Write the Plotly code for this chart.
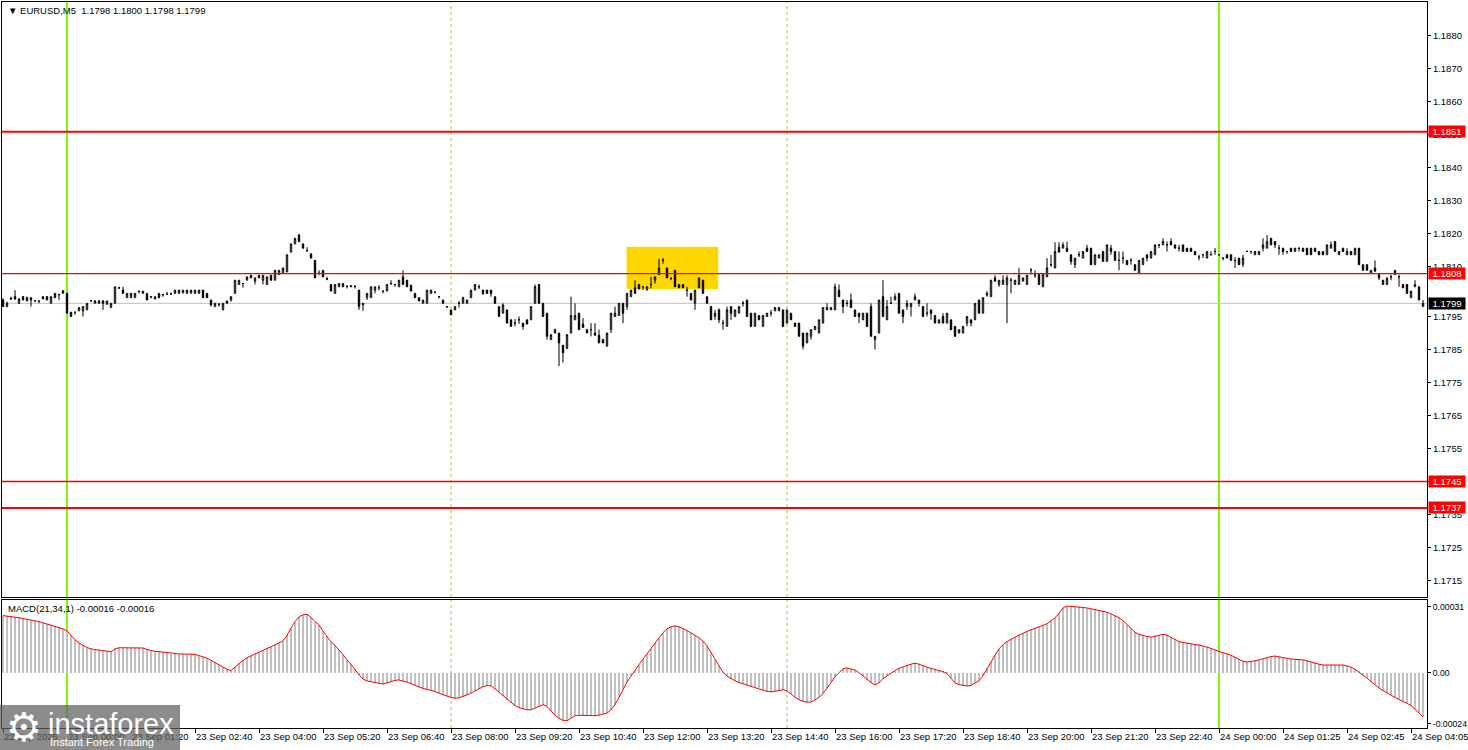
import plotly.graph_objects as go

# ---------------- data (prices in pips relative to BASE) ----------------
BASE = 1.1800
symbol_title = "EURUSD,M5  1.1798 1.1800 1.1798 1.1799"
macd_title = "MACD(21,34,1) -0.00016 -0.00016"

open_pips = [
    0, -2, 0.3, 1, -1, 1, -0.3, 0.7, -0.3, -0.3,
    1, 1, -1, 2, 1.7, 2, 2, -3.7, -3.7, -3.3,
    -3.3, -3, -0.3, -1, -1, -0.3, -1.3, -2.3, -1, 3.7,
    3, 0.7, 0.7, 0.7, 2.7, 2, 2, 1, 0.3, 2,
    1.7, 1.7, 2, 2, 2, 2.2, 2, 2.1, 2, 2,
    3, 2, 0, -2, -1.3, -3, -0.3, 0, 2, 4.7,
    5, 6, 7.5, 5.7, 7.5, 6, 4.7, 7.5, 6, 7.7,
    8, 8.5, 14.5, 17, 19.7, 17, 15, 14, 12, 8,
    9, 6.5, 4.7, 2, 4, 5, 4.2, 4, 4.2, 3,
    -1.5, 0.7, 0.7, 3, 3.7, 2.7, 2.7, 5, 4.7, 4,
    7, 6, 4.5, 2, 0.7, -1, -1, 2, 2.3, 1,
    0, -2, -3, -3, -1, -1, -1, 0.7, 3, 4,
    3, 3, 3, 1, -2, -4, -3, -6, -7, -6,
    -7, -6, -6, -1, 4.7, -1, -4, -12, -10, -10,
    -13.7, -14.7, -10, -6, -4, -7.3, -9, -9, -10, -10.7,
    -12, -14, -9, -5, -4.7, -1, -2, 1, 3.7, 4.7,
    4, 3, 4.7, 6, 7.7, 12, 9.7, 6.5, 9, 4.7,
    4.7, 3, 2, -1, 3.7, 6, 1, -2, -5, -3,
    -7, -8, -2, -5, -4, -1, 0, -4, -8, -4.7,
    -8, -5, -4, -3.3, -3.3, -3, -7, -4, -7, -7,
    -10, -13, -11, -9, -10, -7, -3, -3, -3, 3,
    0, -1, 0, -3, -4, -6, -4, -2, -12, -10,
    1, -6, -1, 0, 2, -3, -2, -2, 0, 0,
    -2, -4, -3, -4.7, -7, -5, -7, -6, -8, -10,
    -10, -7, -6, -6, 0, -4, 1.5, 1, 6.7, 4.7,
    4.7, 4.7, 6, 4.7, 4.7, 5.7, 4.7, 9, 7.5, 7.7,
    4, 7, 10.7, 9.7, 16, 15.7, 15.7, 13.7, 10.7, 13.7,
    12.7, 15.7, 15.7, 10.7, 12.7, 14.7, 11.7, 15.7, 14.7, 12,
    12.7, 12, 12, 10.7, 8, 10.7, 13.7, 12.7, 13.7, 16.7,
    16.7, 16.7, 17.7, 16.7, 15.7, 16.7, 15.7, 15.7, 14.7, 13,
    13.7, 12.7, 13.7, 14.7, 13.7, 12.7, 13.7, 13.7, 12, 12.7,
    10.7, 14.7, 14.7, 13.7, 13.7, 15.7, 15.7, 18.7, 17.7, 15.7,
    15.7, 14.7, 15.7, 14.7, 15.7, 15.7, 15.7, 15.7, 15.7, 14.7,
    14.7, 13.7, 15.7, 17.7, 13.7, 15.7, 13.7, 14.7, 13.7, 15.7,
    10.7, 10.7, 8, 9.7, 7.7, 6, 4.7, 7, 9, 7,
    4.7, 4.7, 0.7, 4, 4, -2,
]
high_pips = [
    0.5, -0.5, 1, 3, 0.5, 1.2, 1, 0.7, 0, -0.3,
    1, 1.2, 1, 2, 1.8, 3, 2.2, -3.7, -3.6, -2.3,
    -2, -1, 0, 0, 0, 0, -0.3, -1, 4, 4,
    4, 2, 2, 2, 2.7, 2.7, 2, 1, 1, 2,
    1.7, 2.5, 2, 3, 3, 3, 3, 3, 3, 3,
    3, 2, 0, -1, -1, -1, -0.3, 1, 6, 6,
    5, 7, 7.5, 6.7, 7.5, 7.5, 7, 7.5, 9, 9,
    9.7, 13.7, 17, 18.7, 20, 17, 16, 14, 12, 9,
    9, 7, 4.7, 4.7, 5, 5, 4.2, 4.3, 4.2, 3,
    -1, 2, 4, 4, 4.5, 2.7, 4.7, 6, 4.7, 6,
    9, 6, 4.5, 2, 0.7, 0, 3, 3, 2.7, 1,
    0, -2, -3, -2, -0.3, 1, 0, 3, 4.7, 4.7,
    3, 3, 3, 1, -2, -1, -3, -6, -5.7, -5,
    -7, -6, -2, 4.7, 4.7, -1, -4, -10.5, -8.7, -10,
    -13.7, -10.5, 1, -1, -4, -5.5, -9, -7, -7, -9,
    -12, -10, -4, -2, -1, -1, 2, 3, 6, 4.7,
    4, 4, 7, 7, 12.5, 12.7, 9.7, 7, 9, 4.7,
    4.7, 4, 2, 3, 6.7, 6, 1, -2, -3, -2.5,
    -6, -2, -2, -3, -2, -0.3, 0, -4, -4, -4.7,
    -4.7, -4, -3, -2.3, -2.3, -3, -3, -4, -7, -7,
    -10, -10, -9, -8, -6, -2.3, -1, -2.3, 5, 4.7,
    0, 0, 2, -3, -4, -4, -4, -1, -11, 0,
    6, 0, 1, 2, 2, -3, 0, -1, 2, 0,
    -2, -1, -3, -4.7, -6, -4, -4, -6, -8, -9,
    -8, -5, -6, -1, 0, 0.7, 2.7, 6, 7.5, 6,
    7.5, 7.5, 6.7, 6, 9.7, 6.7, 7.5, 9.7, 9, 7.7,
    7.7, 12.7, 13.7, 17.5, 17.5, 17.5, 17.7, 13.7, 12.7, 14.7,
    14.7, 16.7, 15.7, 13.7, 13.7, 14.7, 16.7, 16.7, 14.7, 14.7,
    14.7, 12, 12.7, 10.7, 12, 12.7, 13.7, 14.7, 16.7, 16.7,
    18.7, 17.7, 18.7, 16.7, 16.7, 16.7, 15.7, 15.7, 14.7, 13.7,
    13.7, 14.7, 14.7, 15.7, 13.7, 12.7, 13.7, 13.7, 13, 12.7,
    13.7, 15, 14.7, 14.7, 14.7, 18.7, 19.7, 18.7, 17.7, 16.7,
    15.7, 14.7, 15.7, 15.7, 15.7, 15.7, 15.7, 15.7, 15.7, 14.7,
    14.7, 16.7, 17.7, 17.7, 14.7, 15.7, 15.7, 14.7, 15.7, 15.7,
    10.7, 10.7, 9, 12, 7.7, 6, 6.7, 7.7, 9, 7.7,
    4.7, 4.7, 2.7, 6, 4, 0,
]
low_pips = [
    -2, -2.2, 0, 0, -1.2, 0, -0.3, -2, -0.5, -1,
    0.3, 0, -1, 0.7, 0, 2, -4, -5, -4.5, -3.3,
    -5, -3, -0.5, -1, -1, -3, -1.3, -2.3, -1, 3.5,
    2, 0.7, 0.7, 0.7, 2, 2, 0, 0.5, 0.3, 0.7,
    1, 1.7, 1.5, 2, 2, 2, 2, 2, 2, 2,
    0.7, 0.7, -2, -2, -2, -3, -1, -0.5, 2, 4.7,
    3.7, 6, 6.7, 4.7, 6.7, 4.7, 4.7, 6, 6, 7.7,
    8, 8.5, 14.5, 17, 17.7, 15.7, 14.5, 12.7, 6.7, 7.5,
    7, 6, 2.7, 2, 4, 4, 3.5, 4, 3.5, -3,
    -3.3, 0, 0.7, 2, 3, 2, 2.7, 4.5, 4, 4,
    4.7, 4, 2.7, 0.7, -0.3, -1, -1, 2, 2, 0.5,
    -1, -2.5, -4.5, -3, -2.3, -1, -1, 0.7, 3, 3.3,
    1.5, 2, 1, -1, -5, -4, -7, -8, -8, -7.3,
    -9, -7.3, -6, -1, -1, -5, -12, -12, -10, -20,
    -19, -14.7, -10, -6, -9, -8.3, -10, -11, -10.7, -13,
    -13, -14, -10, -5, -4.7, -7, -3, 1, 2, 3.3,
    3, 3, 3.5, 5, 7.7, 11, 6.7, 6, 4, 3.7,
    3.7, 1, 0, -3, 3.7, 2, -1, -6, -6, -7,
    -9, -8, -6, -5, -4, -2, -5, -8, -8, -6,
    -8, -5, -5, -3.3, -3.3, -8, -7, -6, -8, -11,
    -15, -13, -12, -9, -10, -7, -3, -3, -3, 1,
    -4, -2, -2.3, -5, -7, -6, -8, -11, -15, -10,
    -5, -6, -1, 0, -4, -7, -3, -5, 0, -2,
    -5, -5, -6, -7, -7, -7, -7, -9, -11, -10,
    -10, -8, -8, -6, -4, -4, 1, 1, 5.7, 4,
    4.7, -7, 2, 4.7, 4.7, 5.7, 4.7, 7.7, 6.7, 4.7,
    4, 7, 10, 9.7, 14.5, 15.7, 14.7, 10.7, 9.7, 13,
    12.7, 14.7, 10.7, 10.7, 12.7, 11.7, 11.7, 13.7, 12, 9,
    11, 10.7, 10.7, 9, 8, 10.7, 11.7, 12.7, 13.7, 15.7,
    16.7, 14.7, 16.7, 15.7, 14.7, 14.7, 14.7, 14.7, 13.7, 12,
    12.7, 12.7, 13.7, 13.7, 13.5, 12, 12.7, 12, 9.7, 10.7,
    10, 14.7, 14, 13.7, 13.7, 14.7, 15.7, 16.7, 15.7, 13.7,
    13.7, 14, 14.7, 14.7, 14.7, 14.7, 13.7, 13.7, 14.7, 13.7,
    13.7, 13.7, 15.7, 14.7, 13.7, 14.7, 13.7, 13.7, 13.7, 10.7,
    9, 9, 8, 8.7, 6, 4.7, 4.7, 6, 7.7, 4,
    3.7, 2, 0.7, 4, 0, -2,
]
close_pips = [
    -2, -1, 0.5, 0.3, 0.3, 0, 0.7, 0, -0.2, -0.3,
    0.3, 0, 1, 0.7, 1.6, 2.8, -4, -5, -3.7, -2.3,
    -2, -1, -0.2, -0.3, -0.3, -1, -0.3, -1, 4, 3.6,
    2, 2, 2, 2, 2.6, 2.7, 0, 0.9, 1, 0.7,
    1.6, 1.8, 1.9, 3, 3, 3, 3, 3, 3, 3,
    0.7, 0.7, -1.5, -1, -1.3, -1, -1, 1, 6, 6,
    5, 7, 6.7, 6.7, 6.7, 7.5, 7, 6, 9, 9,
    9.7, 13.7, 17, 18.7, 17.7, 15.7, 15, 12.7, 6.7, 8.1,
    7, 6.3, 2.7, 4.7, 5, 4, 4.2, 4.3, 4.2, -2,
    -1, 2, 4, 4, 3.7, 2.7, 4.7, 5, 4.7, 6,
    4.7, 4, 2.7, 0.7, -0.3, 0, 3, 3, 2.3, 1,
    -1, -2, -4.5, -2, -1, 0.7, 0, 3, 4.7, 4,
    2, 2, 2, -1, -5, -1.5, -7, -8, -7, -6,
    -8, -7.3, -2, 4, -1, -5, -11, -10.5, -9, -13,
    -16, -10.5, -4.7, -4.7, -9, -8.3, -10, -9, -10.7, -13,
    -13, -10, -4, -4, -1, -4, 2, 3, 2, 3.3,
    4, 4, 4.7, 7, 9.7, 12, 6.7, 6.5, 4, 3.7,
    3.7, 3, 0, 3, 6.7, 2, -1, -6, -4, -6,
    -7, -3, -4, -3, -2, -1, -5, -8, -4, -6,
    -4.7, -4, -4, -2.3, -2.3, -8, -3, -6, -8, -11,
    -14, -10, -9, -8, -6, -2.3, -2.3, -2.3, 4, 1,
    -2, -1, -2.3, -5, -5, -4, -8, -11, -11, 0,
    -5, -2, -1, 1, -4, -5, -1, -1, 1, -1,
    -5, -4, -4, -7, -6, -7, -4, -9, -11, -9,
    -8, -5, -7, -1, -4, 0.7, 2, 6, 5.7, 6,
    6, 6.7, 6, 6, 7.5, 6.7, 7.5, 9, 7.5, 4.7,
    7.7, 9.7, 10.7, 14.7, 14.5, 16.7, 14.7, 11.7, 12.7, 13.7,
    14.7, 14.7, 10.7, 13.7, 13.7, 11.7, 16.7, 14.7, 12, 12,
    12.7, 10.7, 12, 9, 12, 12.7, 12.7, 14.7, 16.7, 16.7,
    17.7, 16.7, 16.7, 15.7, 15.7, 14.7, 14.7, 14.7, 13.7, 13,
    13.7, 14.7, 13.7, 14.7, 13.7, 12.7, 12.7, 12, 12, 10.7,
    12.7, 14.7, 14.7, 14.7, 14.7, 16.7, 17.7, 16.7, 16.7, 15.7,
    14.7, 14.7, 14.7, 15.7, 15.7, 14.7, 13.7, 13.7, 14.7, 13.7,
    13.7, 16.7, 16.7, 14.7, 14.7, 14.7, 14.7, 13.7, 15.7, 10.7,
    9, 9, 9, 8.7, 6.7, 4.7, 6.7, 7, 7.7, 7,
    3.7, 2, 2.7, 4.7, 0, -1,
]

# MACD(21,34,1) histogram values, in units of 1e-5
macd_e5 = [
    26.8, 26.6, 26.4, 26.2, 25.8, 25.4, 25.1, 24.8, 24.4, 24.0,
    23.4, 22.8, 22.3, 21.8, 21.3, 20.6, 19.6, 17.5, 15.5, 14.0,
    12.8, 11.8, 11.2, 10.8, 10.6, 10.4, 10.0, 9.8, 11.2, 11.7,
    11.7, 11.7, 11.7, 11.8, 11.8, 11.6, 10.9, 10.4, 10.0, 9.9,
    9.7, 9.4, 9.0, 8.9, 8.8, 8.8, 8.8, 8.8, 8.6, 8.0,
    7.5, 6.9, 5.8, 4.8, 3.8, 2.8, 1.6, 1.0, 2.6, 4.6,
    5.8, 7.0, 8.0, 8.8, 9.6, 10.6, 11.4, 12.2, 13.0, 14.0,
    15.0, 17.5, 21.0, 24.0, 26.2, 27.2, 27.4, 26.0, 24.0, 22.5,
    19.5, 17.0, 14.5, 12.8, 10.8, 8.5, 6.0, 4.0, 1.6, -1.0,
    -3.0, -3.9, -4.2, -4.6, -4.9, -5.3, -4.8, -4.2, -3.6, -3.4,
    -3.8, -4.4, -5.2, -6.0, -6.8, -7.4, -7.8, -8.2, -8.8, -9.6,
    -10.4, -11.0, -11.6, -12.0, -11.8, -11.2, -10.4, -9.6, -8.6, -7.6,
    -6.6, -6.0, -6.2, -7.6, -9.2, -10.8, -12.6, -14.2, -15.4, -16.4,
    -17.0, -17.4, -17.4, -16.6, -15.6, -15.0, -15.8, -17.8, -20.0, -21.4,
    -22.4, -22.6, -21.4, -20.2, -20.0, -20.0, -20.2, -20.3, -20.2, -19.9,
    -19.6, -19.0, -17.4, -15.0, -11.6, -7.8, -4.4, -1.6, 1.3, 3.8,
    6.4, 8.8, 11.2, 13.8, 16.4, 18.8, 20.6, 21.6, 22.0, 21.6,
    20.8, 19.8, 18.8, 17.6, 16.4, 14.8, 12.6, 9.4, 6.0, 3.0,
    0.2, -1.6, -2.8, -3.8, -4.6, -5.2, -5.8, -6.3, -6.7, -7.4,
    -8.2, -8.8, -9.0, -8.8, -8.4, -8.0, -8.6, -10.0, -11.6, -12.6,
    -13.4, -13.8, -13.8, -12.8, -11.6, -9.8, -7.2, -4.4, -2.0, 0.0,
    1.8, 2.2, 1.8, 1.3, 0.0, -1.6, -3.2, -4.6, -5.8, -4.8,
    -2.8, -1.4, 0.0, 1.0, 2.0, 2.8, 3.4, 4.0, 4.5, 4.0,
    3.2, 2.6, 2.0, 1.6, 1.0, 0.5, -0.4, -2.6, -4.8, -5.6,
    -6.0, -6.2, -6.0, -5.0, -3.8, -1.4, 2.0, 5.0, 8.2, 11.2,
    13.2, 14.6, 15.8, 16.7, 17.6, 18.6, 19.4, 20.2, 20.8, 21.4,
    22.2, 23.0, 24.2, 25.7, 28.0, 30.4, 31.3, 31.2, 31.0, 30.8,
    30.6, 30.4, 30.0, 29.8, 29.4, 29.0, 28.4, 27.6, 26.8, 25.8,
    24.4, 22.6, 20.8, 19.0, 18.0, 17.4, 17.0, 16.7, 17.2, 17.8,
    18.0, 17.6, 16.6, 15.6, 14.6, 14.2, 13.8, 13.5, 13.2, 13.0,
    12.6, 12.0, 11.4, 10.6, 10.0, 9.4, 8.8, 8.2, 7.2, 6.2,
    5.4, 5.0, 5.2, 5.6, 6.0, 6.6, 7.2, 7.6, 7.8, 7.4,
    7.0, 6.6, 6.4, 6.3, 6.2, 6.0, 5.6, 5.0, 4.4, 4.0,
    3.6, 3.6, 3.8, 3.8, 3.6, 3.6, 3.2, 2.6, 1.6, 0.4,
    -1.2, -2.6, -4.2, -5.8, -7.2, -8.4, -9.6, -10.6, -11.6, -12.6,
    -13.4, -14.4, -15.4, -17.0, -19.0, -20.8,
]

# time-axis labels (one every 16 bars)
time_labels = [
    "22 Sep 2025", "23 Sep 00:00", "23 Sep 01:20", "23 Sep 02:40", "23 Sep 04:00",
    "23 Sep 05:20", "23 Sep 06:40", "23 Sep 08:00", "23 Sep 09:20", "23 Sep 10:40",
    "23 Sep 12:00", "23 Sep 13:20", "23 Sep 14:40", "23 Sep 16:00", "23 Sep 17:20",
    "23 Sep 18:40", "23 Sep 20:00", "23 Sep 21:20", "23 Sep 22:40", "24 Sep 00:00",
    "24 Sep 01:25", "24 Sep 02:45", "24 Sep 04:05",
]
price_ticks = [1.1880, 1.1870, 1.1860, 1.1850, 1.1840, 1.1830, 1.1820, 1.1810,
               1.1795, 1.1785, 1.1775, 1.1765, 1.1755, 1.1745, 1.1735, 1.1725, 1.1715]
macd_ticks = [0.00031, 0.0, -0.00024]
macd_tick_text = ["0.00031", "0.00", "-0.00024"]

# horizontal levels: (price, line width)
levels = [(1.1851, 2), (1.1808, 1.3), (1.1745, 1.3), (1.1737, 2)]
current_price = 1.1799
day_bars = [16, 304]          # green lines (day separators)
dashed_bars = [112, 196]      # dashed vertical lines
signal_zone = (155.9, 178.8, 1.18033, 1.18161)  # yellow box: bar0, bar1, price0, price1

# ---------------- build ----------------
n = len(close_pips)
xs = list(range(n))
o = [BASE + v / 1e4 for v in open_pips]
c = [BASE + v / 1e4 for v in close_pips]
h = [max(BASE + v / 1e4, a, b) for v, a, b in zip(high_pips, o, c)]
l = [min(BASE + v / 1e4, a, b) for v, a, b in zip(low_pips, o, c)]
macd = [v * 1e-5 for v in macd_e5]

FONT = "Liberation Sans, Arial, sans-serif"
fig = go.Figure()

fig.add_trace(go.Candlestick(
    x=xs, open=o, high=h, low=l, close=c,
    increasing=dict(fillcolor="white", line=dict(color="black", width=1)),
    decreasing=dict(fillcolor="black", line=dict(color="black", width=1)),
    whiskerwidth=0, xaxis="x", yaxis="y", hoverinfo="skip", showlegend=False,
))
fig.add_trace(go.Bar(
    x=xs, y=macd, marker=dict(color="#C0C0C0", line=dict(width=0)),
    width=0.5, xaxis="x2", yaxis="y2", hoverinfo="skip", showlegend=False,
))
fig.add_trace(go.Scatter(
    x=xs, y=macd, mode="lines", line=dict(color="red", width=1),
    xaxis="x2", yaxis="y2", hoverinfo="skip", showlegend=False,
))

W, H = 1468, 750
ml, mr, mt, mb = 2, 41, 2, 22
plot_h = H - mt - mb  # 726
main_bottom_px = 597
macd_top_px = 600
main_dom = [(H - mb - main_bottom_px) / plot_h, 1]
macd_dom = [0, (H - mb - macd_top_px) / plot_h]

xrange_ = [-0.25, 356]
tickfont = dict(family=FONT, size=9.5, color="black")

fig.update_layout(
    width=W, height=H, margin=dict(l=ml, r=mr, t=mt, b=mb, autoexpand=False),
    paper_bgcolor="white", plot_bgcolor="white",
    boxgap=0.5, bargap=0, showlegend=False,
    xaxis=dict(domain=[0, 1], range=xrange_, anchor="y", showgrid=False, zeroline=False,
               showticklabels=False, ticks="", showline=True, mirror=True, automargin=False,
               linecolor="black", linewidth=1, rangeslider=dict(visible=False)),
    yaxis=dict(domain=main_dom, range=[1.17100, 1.18903], side="right", anchor="x",
               showgrid=False, zeroline=False, showline=True, mirror=True, automargin=False,
               linecolor="black", linewidth=1, ticks="outside", ticklen=3,
               tickcolor="black", tickvals=price_ticks,
               ticktext=[f"{v:.4f}" for v in price_ticks], tickfont=tickfont),
    xaxis2=dict(domain=[0, 1], range=xrange_, anchor="y2", matches="x", showgrid=False,
                zeroline=False, showline=True, mirror=True, linecolor="black", linewidth=1,
                ticks="outside", ticklen=4, tickcolor="black", automargin=False,
                tickangle=0, ticklabeloverflow="allow",
                tickvals=[16 * k for k in range(len(time_labels))], ticktext=time_labels,
                ticklabelposition="outside right", tickfont=tickfont),
    yaxis2=dict(domain=macd_dom, range=[-0.0002596, 0.0003413], side="right", anchor="x2",
                showgrid=False, zeroline=False, showline=True, mirror=True, automargin=False,
                linecolor="black", linewidth=1, ticks="outside", ticklen=3,
                tickcolor="black", tickvals=macd_ticks, ticktext=macd_tick_text,
                tickfont=dict(family=FONT, size=8.7, color="black")),
)

shapes = []
# yellow signal zone
bx0, bx1, by0, by1 = signal_zone
shapes.append(dict(type="rect", xref="x", yref="y", x0=bx0, x1=bx1, y0=by0, y1=by1,
                   fillcolor="#FFD700", line=dict(width=0), layer="below"))
# day separators (green) spanning both panels
for b in day_bars:
    shapes.append(dict(type="line", xref="x", yref="paper", x0=b, x1=b, y0=0, y1=1,
                       line=dict(color="#7CFC00", width=2), layer="below"))
for b in dashed_bars:
    for yr in ("y domain", "y2 domain"):
        shapes.append(dict(type="line", xref="x", yref=yr, x0=b, x1=b, y0=0, y1=1,
                           line=dict(color="#9ACD32", width=1, dash="3px,3px"), layer="below"))
# current price line
shapes.append(dict(type="line", xref="x domain", yref="y", x0=0, x1=1,
                   y0=current_price, y1=current_price,
                   line=dict(color="#C0C0C0", width=1), layer="below"))
# red levels
for p, wdt in levels:
    shapes.append(dict(type="line", xref="x domain", yref="y", x0=0, x1=1, y0=p, y1=p,
                       line=dict(color="#FF0000", width=wdt), layer="above"))

# instaforex logo box (bottom-left)
def px_to_paper_x(px):
    return (px - ml) / (W - ml - mr)

def px_to_paper_y(py):
    return (H - mb - py) / plot_h

shapes.append(dict(type="rect", xref="paper", yref="paper",
                   x0=px_to_paper_x(0), x1=px_to_paper_x(180),
                   y0=px_to_paper_y(750), y1=px_to_paper_y(705),
                   fillcolor="rgba(95,95,95,0.72)", line=dict(width=0), layer="above"))
fig.update_layout(shapes=shapes)

ann = []
# chart titles
ann.append(dict(xref="paper", yref="paper", x=px_to_paper_x(6), y=px_to_paper_y(10),
                xanchor="left", yanchor="middle", showarrow=False,
                text="\u25BC " + symbol_title,
                font=dict(family=FONT, size=9.5, color="black")))
ann.append(dict(xref="paper", yref="paper", x=px_to_paper_x(6), y=px_to_paper_y(608),
                xanchor="left", yanchor="middle", showarrow=False, text=macd_title,
                font=dict(family=FONT, size=9.5, color="black")))
# price labels at right
for p, _ in levels:
    ann.append(dict(xref="paper", yref="y", x=1, y=p, xanchor="left", yanchor="middle",
                    xshift=1, showarrow=False, text=f"{p:.4f}", bgcolor="red",
                    width=36, height=11, borderpad=0,
                    font=dict(family=FONT, size=9.5, color="white")))
ann.append(dict(xref="paper", yref="y", x=1, y=current_price, xanchor="left",
                yanchor="middle", xshift=1, showarrow=False, text=f"{current_price:.4f}",
                bgcolor="black", width=36, height=11, borderpad=0,
                font=dict(family=FONT, size=9.5, color="white")))
# logo texts
ann.append(dict(xref="paper", yref="paper", x=px_to_paper_x(24), y=px_to_paper_y(727),
                xanchor="center", yanchor="middle", showarrow=False, text="\u2699",
                font=dict(family="DejaVu Sans", size=40, color="white")))
ann.append(dict(xref="paper", yref="paper", x=px_to_paper_x(46), y=px_to_paper_y(724),
                xanchor="left", yanchor="middle", showarrow=False, text="instaforex",
                font=dict(family=FONT, size=29, color="white")))
ann.append(dict(xref="paper", yref="paper", x=px_to_paper_x(48), y=px_to_paper_y(742),
                xanchor="left", yanchor="middle", showarrow=False, text="Instant Forex Trading",
                font=dict(family=FONT, size=11, color="white")))
fig.update_layout(annotations=ann)

# remove the default page margin so the figure sits at the window's top-left corner
fig.write_html("out.html", config={"displayModeBar": False},
               post_script="document.body.style.margin='0';document.body.style.overflow='hidden';")
